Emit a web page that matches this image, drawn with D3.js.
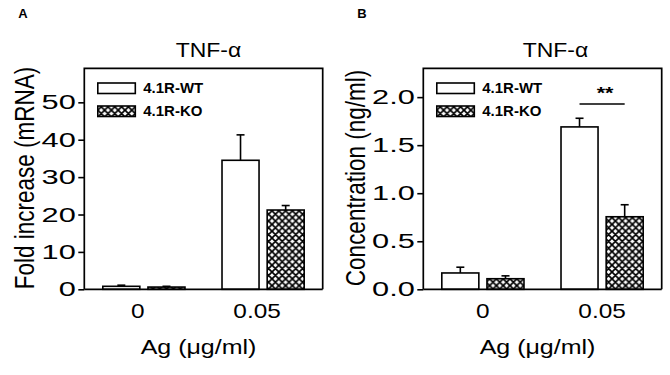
<!DOCTYPE html>
<html>
<head>
<meta charset="utf-8">
<script src="https://cdn.jsdelivr.net/npm/d3@7"></script>
<style>
  body { margin: 0; background: #fff; }
  svg { font-family: "Liberation Sans", Arial, sans-serif; }
</style>
</head>
<body>
<div id="chart"></div>
<script>
// categories and series
var groups = ["0", "0.05"];
var seriesNames = ["4.1R-WT", "4.1R-KO"];

// panel A: fold increase (mRNA)
var foldWT = [0.8, 34.5];
var foldWTErr = [0.3, 6.8];
var foldKO = [0.6, 21.2];
var foldKOErr = [0.2, 1.2];
var foldTicks = [0, 10, 20, 30, 40, 50];

// panel B: concentration (ng/ml)
var concWT = [0.17, 1.69];
var concWTErr = [0.06, 0.09];
var concKO = [0.11, 0.755];
var concKOErr = [0.03, 0.125];
var concTicks = [0, 0.5, 1.0, 1.5, 2.0];

var svg = d3.select("#chart").append("svg")
    .attr("width", 670)
    .attr("height", 375);

// the original figure is stretched sideways, so text gets a horizontal scale
function place(x, y, sx){
    return "translate(" + x + "," + y + ") scale(" + sx + ",1)";
}

// cross hatch for KO bars
var hs = 6.8;
var defs = svg.append("defs");
var pat = defs.append("pattern")
    .attr("id", "hatch")
    .attr("patternUnits", "userSpaceOnUse")
    .attr("width", hs)
    .attr("height", hs);
pat.append("rect").attr("width", hs).attr("height", hs).attr("fill", "white");
pat.append("path")
    .attr("d", "M0,0 L" + hs + "," + hs + " M" + hs + ",0 L0," + hs +
        " M-1,1 L1,-1 M" + (hs - 1) + "," + (hs + 1) + " L" + (hs + 1) + "," + (hs - 1) +
        " M-1," + (hs - 1) + " L1," + (hs + 1) + " M" + (hs - 1) + ",-1 L" + (hs + 1) + ",1")
    .attr("stroke", "black")
    .attr("stroke-width", 1.7);

function drawPanel(p){
    var g = svg.append("g");
    var top = 68.3, bottom = 289.3;

    var y = d3.scaleLinear().domain([0, p.yMax]).range([bottom, top]);
    var x0 = d3.scaleBand().domain(groups).range([p.left, p.right]);
    var x1 = d3.scaleBand().domain(seriesNames).range([0, x0.bandwidth()])
        .paddingInner(0.18).paddingOuter(0.41);

    // panel letter and title
    g.append("text").text(p.letter)
        .attr("x", p.left - 66).attr("y", 17.5)
        .attr("font-weight", "bold").attr("font-size", 13);
    g.append("text").text("TNF-α")
        .attr("transform", place((p.left + p.right) / 2 + p.titleShift, 57, 1.12))
        .attr("text-anchor", "middle").attr("font-size", 20.5);

    var rows = [];
    groups.forEach(function(grp, i){
        rows.push({grp: grp, s: seriesNames[0], v: p.wt[i], e: p.wtErr[i]});
        rows.push({grp: grp, s: seriesNames[1], v: p.ko[i], e: p.koErr[i]});
    });

    // error bars (upward only)
    rows.forEach(function(d){
        var cx = x0(d.grp) + x1(d.s) + x1.bandwidth() / 2;
        g.append("line")
            .attr("x1", cx).attr("x2", cx)
            .attr("y1", y(d.v)).attr("y2", y(d.v + d.e))
            .attr("stroke", "black").attr("stroke-width", 1.6);
        g.append("line")
            .attr("x1", cx - 4).attr("x2", cx + 4)
            .attr("y1", y(d.v + d.e)).attr("y2", y(d.v + d.e))
            .attr("stroke", "black").attr("stroke-width", 1.6);
    });

    g.selectAll("rect.bar").data(rows).enter()
        .append("rect")
        .attr("class", "bar")
        .attr("x", function(d){ return x0(d.grp) + x1(d.s); })
        .attr("y", function(d){ return y(d.v); })
        .attr("width", x1.bandwidth())
        .attr("height", function(d){ return bottom - y(d.v); })
        .attr("fill", function(d){ return d.s == seriesNames[0] ? "white" : "url(#hatch)"; })
        .attr("stroke", "black")
        .attr("stroke-width", 1.6);

    // frame
    g.append("path")
        .attr("d", "M" + p.left + "," + bottom + "V" + top + "H" + p.right + "V" + bottom)
        .attr("fill", "none").attr("stroke", "black").attr("stroke-width", 1.7);

    // y axis
    var yAxis = d3.axisLeft(y).tickValues(p.ticks).tickSize(6).tickFormat(p.fmt);
    var ya = g.append("g").attr("transform", "translate(" + p.left + ",0)").call(yAxis);
    ya.select(".domain").remove();
    ya.selectAll("line").attr("stroke-width", 1.6);
    ya.selectAll("text")
        .attr("x", 0).attr("font-size", 20.5).attr("font-family", null)
        .attr("transform", place(-8.5, 0, 1.5));

    // x axis
    var xAxis = d3.axisBottom(x0).tickSize(0);
    var xa = g.append("g").attr("transform", "translate(" + p.xLabelShift + "," + bottom + ")").call(xAxis);
    xa.select(".domain").remove();
    xa.selectAll("text")
        .attr("y", 0).attr("dy", null).attr("font-size", 20).attr("font-family", null)
        .attr("transform", place(0, 29, 1.22));
    g.append("line")
        .attr("x1", p.left).attr("x2", p.right)
        .attr("y1", bottom).attr("y2", bottom)
        .attr("stroke", "black").attr("stroke-width", 1.7);

    // axis titles
    g.append("text").text("Ag (μg/ml)")
        .attr("transform", place((p.left + p.right) / 2 - 5, 354, 1.25))
        .attr("text-anchor", "middle").attr("font-size", 20);
    g.append("text").text(p.yTitle)
        .attr("transform", "translate(" + (p.left - p.yTitleGap) + ",178) rotate(-90) scale(1,1.2)")
        .attr("text-anchor", "middle").attr("font-size", 22.5);

    // legend
    var leg = g.append("g").attr("transform", "translate(" + (p.left + 13.5) + ",83)");
    seriesNames.forEach(function(s, i){
        leg.append("rect")
            .attr("x", 0).attr("y", i * 23)
            .attr("width", 37.5).attr("height", 10.5)
            .attr("fill", i == 0 ? "white" : "url(#hatch)")
            .attr("stroke", "black").attr("stroke-width", 1.6);
        leg.append("text").text(s)
            .attr("transform", place(45.5, i * 23 + 10, 1.07))
            .attr("font-size", 14).attr("font-weight", "bold");
    });

    if (p.sig) {
        var gx = x0(groups[1]);
        var xa1 = gx + x1(seriesNames[0]) + x1.bandwidth() / 2;
        var xb1 = gx + x1(seriesNames[1]) + x1.bandwidth() / 2;
        g.append("line")
            .attr("x1", xa1).attr("x2", xb1)
            .attr("y1", 104).attr("y2", 104)
            .attr("stroke", "black").attr("stroke-width", 1.3);
        g.append("text").text(p.sig)
            .attr("transform", place((xa1 + xb1) / 2 + 3, 99, 1.35))
            .attr("text-anchor", "middle").attr("font-size", 16).attr("font-weight", "bold");
    }
}

drawPanel({
    letter: "A", left: 84.3, right: 322.7, yMax: 59.1,
    wt: foldWT, wtErr: foldWTErr, ko: foldKO, koErr: foldKOErr,
    ticks: foldTicks, fmt: d3.format("d"),
    yTitle: "Fold increase (mRNA)", yTitleGap: 50,
    titleShift: 5, xLabelShift: -6
});

drawPanel({
    letter: "B", left: 423.3, right: 661.7, yMax: 2.3,
    wt: concWT, wtErr: concWTErr, ko: concKO, koErr: concKOErr,
    ticks: concTicks, fmt: d3.format(".1f"),
    yTitle: "Concentration (ng/ml)", yTitleGap: 58,
    titleShift: 13, xLabelShift: 0, sig: "**"
});
</script>
</body>
</html>
